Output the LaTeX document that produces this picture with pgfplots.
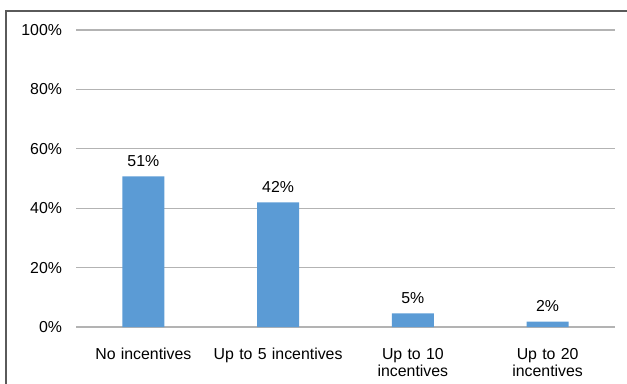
\documentclass[border=0pt]{standalone}
\usepackage{fontspec}
\setmainfont{Liberation Sans}
\usepackage{pgfplots}
\pgfplotsset{compat=1.18}
\definecolor{barblue}{HTML}{5B9BD5}
\definecolor{gridgray}{HTML}{B3B3B3}
\definecolor{framegray}{HTML}{5A5A5A}
\begin{document}
\begin{tikzpicture}[x=0.75pt,y=0.75pt]
\useasboundingbox (0,0) rectangle (627,383);
\clip (0,0) rectangle (627,383);
\draw[framegray, line width=0.9pt] (6,-20) -- (6,372) -- (660,372);
\begin{axis}[
  at={(57pt,42pt)}, anchor=south west,
  scale only axis,
  width=404.25pt, height=222.75pt,
  ybar, bar width=31.5pt,
  xmin=-0.5, xmax=3.5, ymin=0, ymax=100,
  axis line style={draw=none},
  axis x line*=bottom,
  xtick=data,
  xticklabels={No incentives, Up to 5 incentives, Up to 10\\incentives, Up to 20\\incentives},
  x tick label style={align=center, text width=150pt, anchor=north, yshift=-12.3pt},
  ytick={0,20,40,60,80,100},
  yticklabel={\pgfmathprintnumber{\tick}\%},
  /pgf/number format/assume math mode=true,
  y tick label style={xshift=-7pt},
  ymajorgrids, grid style={gridgray, line width=0.9pt},
  major tick length=0pt,
  tick label style={font=\fontsize{11.9}{13.3}\selectfont},
  nodes near coords={\pgfmathprintnumber[fixed,precision=0]{\pgfplotspointmeta}\%},
  nodes near coords style={font=\fontsize{11.9}{13.9}\selectfont, anchor=south, yshift=4pt},
  clip=false,
]
\addplot[fill=barblue, draw=none] coordinates {(0,50.7) (1,42.0) (2,4.6) (3,1.8)};
\end{axis}
\end{tikzpicture}
\end{document}
